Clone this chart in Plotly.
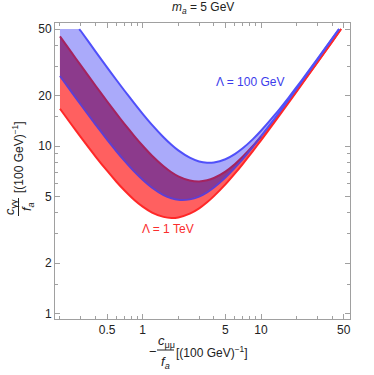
import math
import plotly.graph_objects as go

# ---------------- data ----------------
y_clip = 50

blue_upper_x = [0.291, 0.3, 0.4, 0.5, 0.6, 0.7, 0.85, 1, 1.2, 1.5, 1.75, 2, 2.5, 3, 3.5, 4, 5, 6, 7, 8.5, 10, 13, 17, 22, 30, 40, 45.58]
blue_upper_y = [50, 48.66, 36.69, 29.55, 24.82, 21.48, 17.99, 15.59, 13.39, 11.30, 10.19, 9.43, 8.53, 8.10, 7.96, 7.99, 8.35, 8.96, 9.70, 10.97, 12.35, 15.29, 19.38, 24.64, 33.18, 43.96, 50]

blue_lower_x = [0.2, 0.25, 0.3, 0.4, 0.5, 0.6, 0.7, 0.85, 1, 1.2, 1.5, 1.75, 2, 2.5, 3, 3.5, 4, 5, 6, 7, 8.5, 10, 13, 17, 22, 30, 40, 45.77]
blue_lower_y = [26.22, 21.07, 17.66, 13.44, 10.95, 9.32, 8.19, 7.04, 6.29, 5.64, 5.10, 4.88, 4.78, 4.81, 5.00, 5.30, 5.66, 6.49, 7.41, 8.37, 9.88, 11.42, 14.57, 18.84, 24.22, 32.87, 43.73, 50]

red_upper_x = [0.2, 0.25, 0.3, 0.4, 0.5, 0.6, 0.7, 0.85, 1, 1.2, 1.5, 1.75, 2, 2.5, 3, 3.5, 4, 5, 6, 7, 8.5, 10, 13, 17, 22, 30, 40, 47.44]
red_upper_y = [45.21, 36.26, 30.32, 22.92, 18.53, 15.63, 13.59, 11.48, 10.05, 8.76, 7.58, 6.98, 6.60, 6.23, 6.15, 6.25, 6.45, 7.05, 7.80, 8.64, 9.98, 11.40, 14.34, 18.38, 23.51, 31.80, 42.23, 50]

red_lower_x = [0.2, 0.25, 0.3, 0.4, 0.5, 0.6, 0.7, 0.85, 1, 1.2, 1.5, 1.75, 2, 2.5, 3, 3.5, 4, 5, 6, 7, 8.5, 10, 13, 17, 22, 30, 40, 47.55]
red_lower_y = [16.71, 13.46, 11.32, 8.67, 7.13, 6.13, 5.45, 4.77, 4.35, 4.01, 3.78, 3.72, 3.75, 3.95, 4.25, 4.62, 5.03, 5.91, 6.85, 7.82, 9.31, 10.83, 13.90, 18.04, 23.25, 31.61, 42.08, 50]

x_tickvals = [0.5, 1, 5, 10, 50]
x_ticktext = ["0.5", "1", "5", "10", "50"]
x_minor = [0.2, 0.3, 0.4, 0.6, 0.7, 0.8, 0.9, 2, 3, 4, 6, 7, 8, 9, 20, 30, 40]
y_tickvals = [1, 2, 5, 10, 20, 50]
y_ticktext = ["1", "2", "5", "10", "20", "50"]
y_minor = [1.5, 3, 4, 6, 7, 8, 9, 15, 30, 40]

label_blue = "Λ = 100 GeV"
label_red = "Λ = 1 TeV"
title_text = "<i>m</i><sub><i>a</i></sub> = 5 GeV"

# ---------------- styling ----------------
FONT = "Liberation Sans, Arial, sans-serif"
blue_fill = "rgb(170,170,250)"
red_fill = "rgb(255,96,96)"
overlap_fill = "rgb(140,58,140)"
blue_line = "rgb(80,80,250)"
blue_line_in_red = "rgb(95,62,210)"
red_line_in_blue = "rgb(165,35,95)"
red_line = "rgb(255,40,40)"
frame_col = "#a0a0a0"
txt_col = "#222"

# plot area in pixels
L, R, T, B = 55, 350, 23, 319
W, H = 374, 375


def pxx(x):
    return (x - L) / (R - L)


def pxy(y):
    return (B - y) / (B - T)


cut = blue_lower_x.index(10) + 1  # overlap region ends where the bands separate

fig = go.Figure()

# red band
fig.add_trace(go.Scatter(
    x=red_upper_x + red_lower_x[::-1],
    y=red_upper_y + red_lower_y[::-1],
    fill="toself", fillcolor=red_fill, mode="none", hoverinfo="skip"))
# blue band
fig.add_trace(go.Scatter(
    x=[blue_lower_x[0]] + blue_upper_x + blue_lower_x[::-1],
    y=[y_clip] + blue_upper_y + blue_lower_y[::-1],
    fill="toself", fillcolor=blue_fill, mode="none", hoverinfo="skip"))
# overlap
fig.add_trace(go.Scatter(
    x=red_upper_x[:cut] + blue_lower_x[:cut][::-1],
    y=red_upper_y[:cut] + blue_lower_y[:cut][::-1],
    fill="toself", fillcolor=overlap_fill, mode="none", hoverinfo="skip"))


def add_line(xs, ys, col):
    fig.add_trace(go.Scatter(x=xs, y=ys, mode="lines", hoverinfo="skip",
                             line=dict(color=col, width=2, shape="spline", smoothing=0.6)))


add_line(red_lower_x, red_lower_y, red_line)
add_line(red_upper_x[:cut], red_upper_y[:cut], red_line_in_blue)
add_line(red_upper_x[cut - 1:], red_upper_y[cut - 1:], red_line)
add_line(blue_lower_x[:cut], blue_lower_y[:cut], blue_line_in_red)
add_line(blue_lower_x[cut - 1:], blue_lower_y[cut - 1:], blue_line)
add_line(blue_upper_x, blue_upper_y, blue_line)

axis_common = dict(
    type="log", ticks="inside", ticklen=5, tickcolor=frame_col, tickwidth=1,
    showline=True, linecolor=frame_col, linewidth=1, mirror="ticks",
    showgrid=False, zeroline=False,
    tickfont=dict(family=FONT, size=12, color=txt_col),
)

fig.update_layout(
    width=W, height=H,
    margin=dict(l=L, r=W - R, t=T, b=H - B),
    paper_bgcolor="white", plot_bgcolor="white",
    showlegend=False,
    font=dict(family=FONT, size=12, color=txt_col),
    xaxis=dict(range=[-0.741, 1.752], tickvals=x_tickvals, ticktext=x_ticktext,
               minor=dict(tickvals=x_minor, ticks="inside", ticklen=3,
                          tickcolor=frame_col, showgrid=False),
               **axis_common),
    yaxis=dict(range=[-0.032, 1.735], tickvals=y_tickvals, ticktext=y_ticktext,
               minor=dict(tickvals=y_minor, ticks="inside", ticklen=3,
                          tickcolor=frame_col, showgrid=False),
               **axis_common),
)

FS = 13
ann = []
ann.append(dict(text=title_text, x=pxx(202.5), y=pxy(8), xref="paper", yref="paper",
                showarrow=False, xanchor="center", yanchor="middle",
                font=dict(family=FONT, size=12, color=txt_col)))
ann.append(dict(text=label_blue, x=math.log10(8.07), y=math.log10(24.0), xref="x", yref="y",
                showarrow=False, xanchor="center", yanchor="middle",
                font=dict(family=FONT, size=12, color="rgb(60,60,235)")))
ann.append(dict(text=label_red, x=math.log10(1.63), y=math.log10(3.18), xref="x", yref="y",
                showarrow=False, xanchor="center", yanchor="middle",
                font=dict(family=FONT, size=12, color="rgb(250,45,45)")))

# x-axis title
ann.append(dict(text="−", x=pxx(153), y=pxy(351), xref="paper", yref="paper",
                showarrow=False, xanchor="center", yanchor="middle", font=dict(size=FS)))
ann.append(dict(text="<i>c</i><sub>μμ</sub>", x=pxx(166), y=pxy(341), xref="paper", yref="paper",
                showarrow=False, xanchor="center", yanchor="middle", font=dict(size=FS)))
ann.append(dict(text="<i>f</i><sub><i>a</i></sub>", x=pxx(165.5), y=pxy(362), xref="paper", yref="paper",
                showarrow=False, xanchor="center", yanchor="middle", font=dict(size=FS)))
ann.append(dict(text="[(100 GeV)<sup>−1</sup>]", x=pxx(174), y=pxy(352), xref="paper", yref="paper",
                showarrow=False, xanchor="left", yanchor="middle", font=dict(size=12)))

# y-axis title (rotated)
ann.append(dict(text="<i>c</i><sub>γγ</sub>", x=pxx(10), y=pxy(207), xref="paper", yref="paper",
                showarrow=False, xanchor="center", yanchor="middle", textangle=-90, font=dict(size=FS)))
ann.append(dict(text="<i>f</i><sub><i>a</i></sub>", x=pxx(27), y=pxy(207), xref="paper", yref="paper",
                showarrow=False, xanchor="center", yanchor="middle", textangle=-90, font=dict(size=FS)))
ann.append(dict(text="[(100 GeV)<sup>−1</sup>]", x=pxx(18), y=pxy(157), xref="paper", yref="paper",
                showarrow=False, xanchor="center", yanchor="middle", textangle=-90, font=dict(size=12)))

fig.update_layout(annotations=ann)

fig.update_layout(shapes=[
    dict(type="line", xref="paper", yref="paper", x0=pxx(157), x1=pxx(174), y0=pxy(350), y1=pxy(350),
         line=dict(color=txt_col, width=1)),
    dict(type="line", xref="paper", yref="paper", x0=pxx(18.5), x1=pxx(18.5), y0=pxy(198), y1=pxy(216),
         line=dict(color=txt_col, width=1)),
])

fig.write_html("out.html", config={"displayModeBar": False},
               post_script="document.body.style.margin='0px';")
